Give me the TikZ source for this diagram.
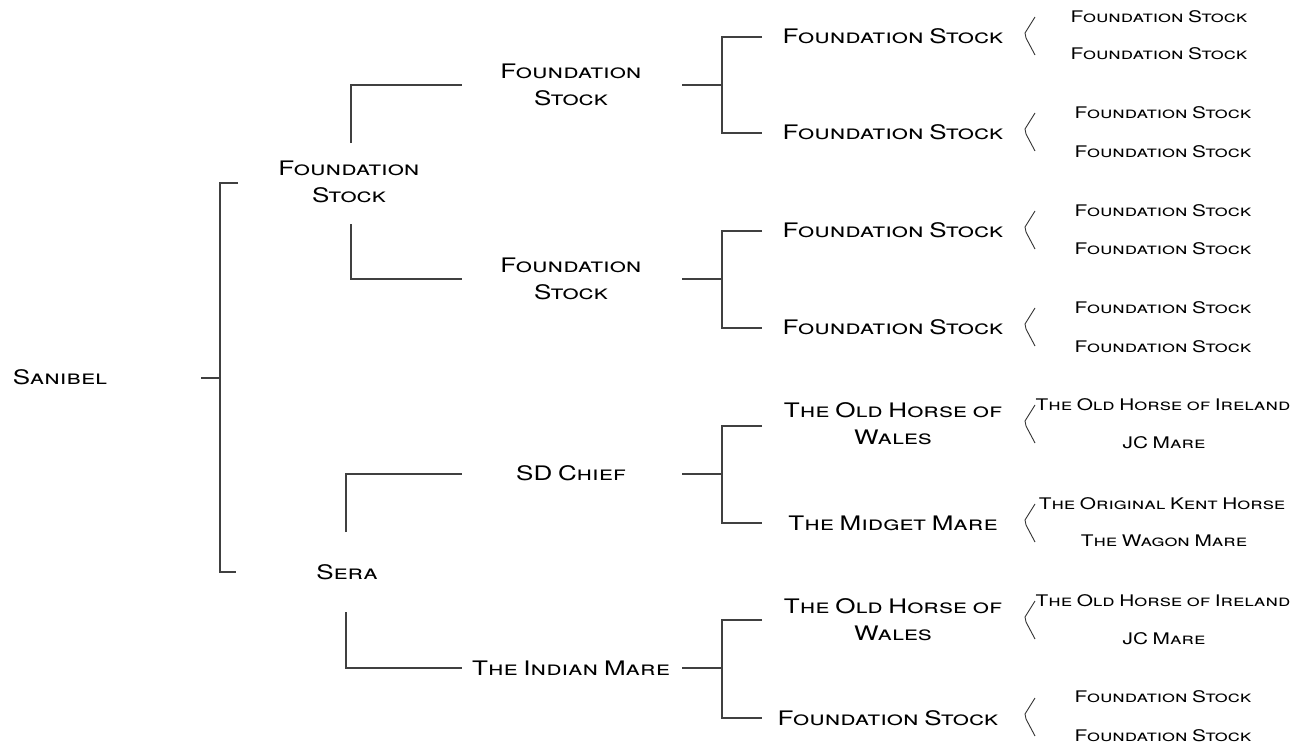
\documentclass[tikz,border=0pt]{standalone}
\usepackage{fontspec}
\newfontfamily\cpfont{TeX Gyre Heros}[Letters=SmallCaps,FakeStretch=1.3,WordSpace=0.8]
\begin{document}
\begin{tikzpicture}[x=1pt,y=-1pt,
  ln/.style={draw=black!75,line width=1.3pt},
  brk/.style={draw=black!80,line width=0.9pt},
  ta/.style={font=\cpfont\fontsize{20}{27}\selectfont,align=center,inner sep=0pt},
  tb/.style={font=\cpfont\fontsize{16}{20}\selectfont,align=center,inner sep=0pt}]
\useasboundingbox (0,0) rectangle (1291,747);
% level 0
\node[ta] (san) at (60,377) {Sanibel};
% level 1
\node[ta] (f1) at (349,182) {Foundation\\Stock};
\node[ta] (sera) at (347,572) {Sera};
% level 2
\node[ta] (l2a) at (571,85) {Foundation\\Stock};
\node[ta] (l2b) at (571,279) {Foundation\\Stock};
\node[ta] (l2c) at (571,473) {SD Chief};
\node[ta] (l2d) at (571,668) {The Indian Mare};
% level 3
\node[ta] (l3a) at (893,36) {Foundation Stock};
\node[ta] (l3b) at (893,132) {Foundation Stock};
\node[ta] (l3c) at (893,230) {Foundation Stock};
\node[ta] (l3d) at (893,327) {Foundation Stock};
\node[ta] (l3e) at (893,424) {The Old Horse of\\Wales};
\node[ta] (l3f) at (893,523) {The Midget Mare};
\node[ta] (l3g) at (893,620) {The Old Horse of\\Wales};
\node[ta] (l3h) at (888,718) {Foundation Stock};
% level 4
\node[tb] (a1) at (1159,17) {Foundation Stock};
\node[tb] (a2) at (1159,54) {Foundation Stock};
\node[tb] (b1) at (1163,113) {Foundation Stock};
\node[tb] (b2) at (1163,152) {Foundation Stock};
\node[tb] (c1) at (1163,211) {Foundation Stock};
\node[tb] (c2) at (1163,249) {Foundation Stock};
\node[tb] (d1) at (1163,308) {Foundation Stock};
\node[tb] (d2) at (1163,347) {Foundation Stock};
\node[tb] (e1) at (1163,405) {The Old Horse of Ireland};
\node[tb] (e2) at (1164,443) {JC Mare};
\node[tb] (f1a) at (1162,504) {The Original Kent Horse};
\node[tb] (f2a) at (1164,541) {The Wagon Mare};
\node[tb] (g1) at (1163,601) {The Old Horse of Ireland};
\node[tb] (g2) at (1164,639) {JC Mare};
\node[tb] (h1) at (1163,697) {Foundation Stock};
\node[tb] (h2) at (1163,736) {Foundation Stock};
% bracket level 0 -> 1
\coordinate (s0) at (201,378);
\coordinate (s1) at (220,378);
\draw[ln] (s0) -- (s1);
\draw[ln] (238,183) -- (220,183) -- (220,572) -- (236,572);
% level 1 -> 2
\draw[ln] (351,143) -- (351,85) -- (462,85);
\draw[ln] (351,224) -- (351,279) -- (462,279);
\draw[ln] (346,532) -- (346,474) -- (462,474);
\draw[ln] (346,612) -- (346,668) -- (462,668);
% level 2 -> 3
\foreach \m/\t/\b in {85/37/133, 279/231/328, 474/426/523, 668/620/718}{
  \draw[ln] (682,\m) -- (722,\m);
  \draw[ln] (762,\t) -- (722,\t) -- (722,\b) -- (762,\b);
}
% level 3 -> 4 angle brackets
\foreach \c in {36,132,230,327,424,523,620,717}{
  \draw[brk] (1035,\c-19) -- (1025,\c-3) -- (1026,\c+2) -- (1035,\c+19);
}
\end{tikzpicture}
\end{document}
